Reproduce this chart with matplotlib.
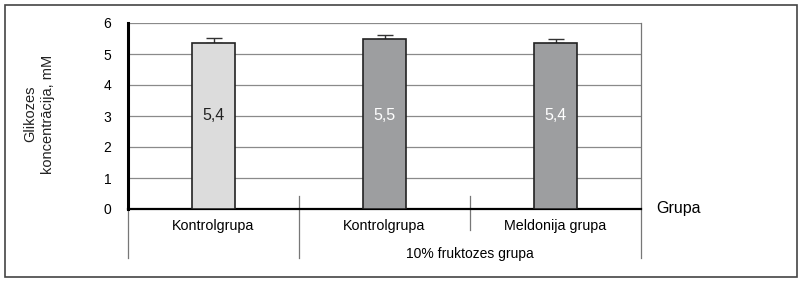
import matplotlib
matplotlib.use("Agg")
import matplotlib.pyplot as plt
from matplotlib.patches import Rectangle

plt.rcParams['font.family'] = ['Liberation Sans', 'DejaVu Sans']

groups = ["Kontrolgrupa", "Kontrolgrupa", "Meldonija grupa"]
values = [5.36, 5.47, 5.36]
errors = [0.16, 0.13, 0.12]
value_labels = ["5,4", "5,5", "5,4"]
bar_colors = ["#dcdcdc", "#9d9ea0", "#9d9ea0"]
label_colors = ["#222222", "white", "white"]
super_group = "10% fruktozes grupa"
y_ticks = [0, 1, 2, 3, 4, 5, 6]

fig = plt.figure(figsize=(8, 2.82), dpi=100)
fig.patches.append(Rectangle((5 / 800, 5 / 282), 792 / 800, 272 / 282,
                             transform=fig.transFigure, fill=False,
                             edgecolor="#444444", linewidth=1.2))

ax = fig.add_axes([128 / 800, 1 - 209 / 282, 513 / 800, 186 / 282])
x = [i + 0.5 for i in range(len(groups))]
ax.bar(x, values, width=0.255, color=bar_colors, edgecolor="#222222",
       linewidth=1.2, zorder=3)
ax.errorbar(x, values, yerr=[[0] * len(errors), errors], fmt="none",
            ecolor="#333333", elinewidth=1, capsize=6, capthick=1, zorder=2)
for xi, lab, c in zip(x, value_labels, label_colors):
    ax.text(xi, 3, lab, ha="center", va="center", color=c, fontsize=11.5, zorder=4)

ax.set_xlim(0, 3)
ax.set_ylim(0, 6)
ax.set_yticks(y_ticks)
ax.set_yticklabels([str(t) for t in y_ticks], fontsize=10)
ax.set_xticks([])
ax.tick_params(axis="y", length=0, pad=12)
for t in y_ticks[1:]:
    ax.axhline(t, color="#8a8a8a", linewidth=0.9, zorder=1)

for s in ["top", "right"]:
    ax.spines[s].set_visible(False)
ax.spines["left"].set_linewidth(2.2)
ax.spines["bottom"].set_linewidth(1.6)

tr = ax.get_xaxis_transform()
sep = dict(color="#777777", linewidth=0.9, clip_on=False)
ax.plot([0, 0], [0, -0.265], transform=tr, **sep)
ax.plot([3, 3], [1.0, -0.265], transform=tr, **sep)
ax.plot([1, 1], [0.07, -0.265], transform=tr, **sep)
ax.plot([2, 2], [0.07, -0.113], transform=tr, **sep)

for xi, g in zip(x, groups):
    ax.text(xi, -0.09, g, transform=tr, ha="center", va="center", fontsize=10.3)
ax.text(2, -0.24, super_group, transform=tr, ha="center", va="center", fontsize=10)
ax.text(3.09, 0, "Grupa", transform=tr, ha="left", va="center", fontsize=11.5)

fig.text(39 / 800, 1 - 114 / 282, "Glikozes\nkoncentrācija, mM", rotation=90,
         ha="center", va="center", fontsize=10.5, color="#222222", linespacing=1.35)

fig.savefig("out.png", dpi=100)
